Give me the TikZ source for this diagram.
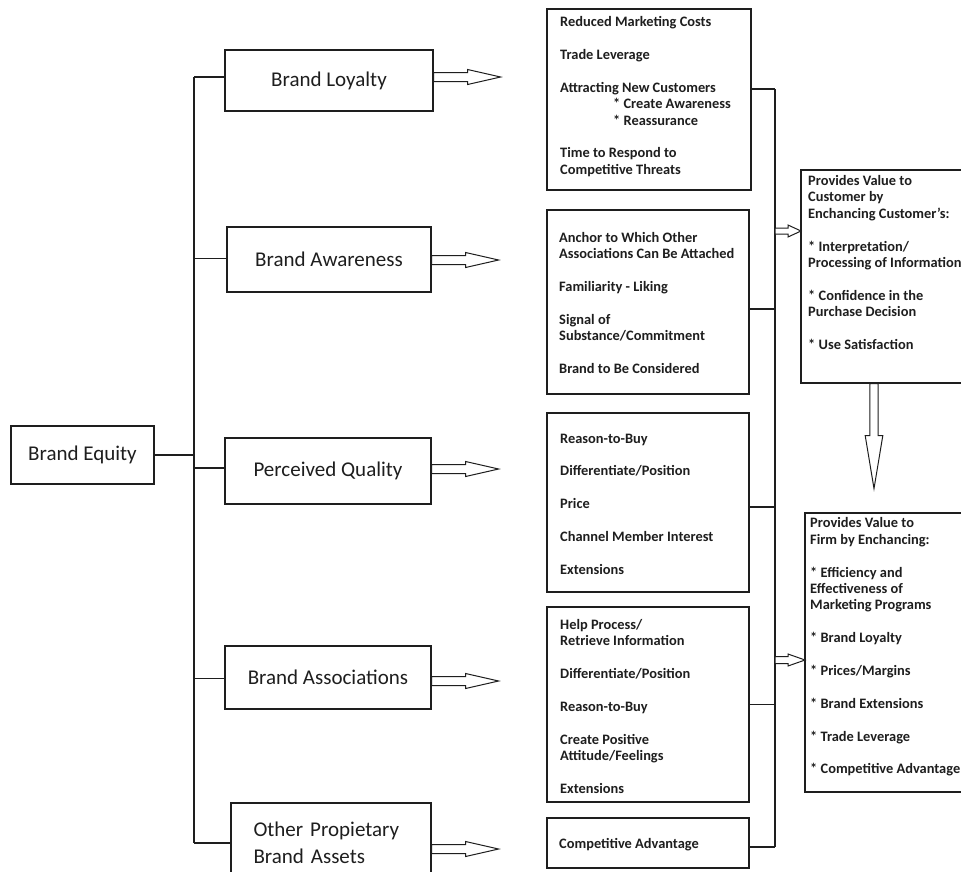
\documentclass[tikz,border=0pt]{standalone}
\usepackage{fontspec}
\setmainfont{Carlito}
\usetikzlibrary{calc}
\definecolor{ink}{RGB}{30,30,30}
\newcommand{\harrowR}[5]{\draw[hol] (#1) ++(0,-#4) -- ++(#2,0) -- ++(0,{-(#5-#4)}) -- ++(#3,#5) -- ++(-#3,#5) -- ++(0,{-(#5-#4)}) -- ++(-#2,0) -- cycle;}
\newcommand{\harrowD}[5]{\draw[hol] (#1) ++(-#4,0) -- ++(0,#2) -- ++({-(#5-#4)},0) -- ++(#5,#3) -- ++(#5,-#3) -- ++({-(#5-#4)},0) -- ++(0,-#2) -- cycle;}
\tikzset{
  ln/.style={draw=ink, line width=1.2pt},
  lbox/.style={draw=ink, line width=1.2pt, rectangle, inner sep=0pt, text=ink,
    font=\fontsize{21}{27}\selectfont},
  rbox/.style={draw=ink, line width=1.2pt, rectangle, inner sep=0pt},
  rtext/.style={font=\bfseries\fontsize{14.4}{16.4}\selectfont, text=ink, align=left,
    anchor=west, inner sep=0pt},
  hol/.style={draw=ink, line width=1pt, fill=white, line join=miter},
}
\begin{document}
\begin{tikzpicture}[x=1pt,y=-1pt]
\useasboundingbox (0,0) rectangle (961,871);
\fill[white] (0,0) rectangle (961,871);
\clip (0,0) rectangle (961,871);

% trunks
\coordinate (lt) at (194,0);
\coordinate (rt) at (775,0);

% left boxes
\node[lbox, minimum width=143pt, minimum height=58pt] (eq) at (82.5,455) {Brand Equity};
\node[lbox, minimum width=208pt, minimum height=61pt] (lb) at (329,80.5) {Brand Loyalty};
\node[lbox, minimum width=204pt, minimum height=65pt] (ab) at (329,259.5) {Brand Awareness};
\node[lbox, minimum width=206pt, minimum height=66pt] (pb) at (328,471) {Perceived Quality};
\node[lbox, minimum width=206pt, minimum height=63pt] (sb) at (328,677.5) {Brand Associations};
\node[lbox, minimum width=200pt, minimum height=80pt, text width=155pt, align=left] (ob) at (331,843) {\mbox{Other Propietary}\\\mbox{Brand Assets}};

% connection points on left boxes
\coordinate (lbw) at ([yshift=3.5pt]lb.west);
\coordinate (abw) at ([yshift=1pt]ab.west);
\coordinate (pbw) at ([yshift=3pt]pb.west);
\coordinate (sbw) at ([yshift=-1pt]sb.west);
\coordinate (obw) at (ob.west);

\draw[ln] (eq.east) -- (eq.east -| lt);
\draw[ln] (lt |- lbw) -- (lt |- obw);
\foreach \c in {lbw,abw,pbw,sbw,obw} \draw[ln] (\c) -- (\c -| lt);

% right boxes
\node[rbox, minimum width=204pt, minimum height=181pt] (r1) at (649,99.5) {};
\node[rbox, minimum width=202pt, minimum height=184pt] (r2) at (648,302) {};
\node[rbox, minimum width=202pt, minimum height=179pt] (r3) at (648,502.5) {};
\node[rbox, minimum width=202pt, minimum height=195pt] (r4) at (648,704.5) {};
\node[rbox, minimum width=202pt, minimum height=50pt] (r5) at (648,843) {};
\node[rbox, minimum width=174pt, minimum height=213pt] (cb) at (888,276.5) {};
\node[rbox, minimum width=170pt, minimum height=279pt] (fb) at (890,652.5) {};

% texts
\node[rtext] (t1) at (560,96.5) {Reduced Marketing Costs\\[16.4pt]
Trade Leverage\\[16.4pt]
Attracting New Customers\\
\hspace*{53pt}* Create Awareness\\
\hspace*{53pt}* Reassurance\\[16.4pt]
Time to Respond to\\
Competitive Threats};
\node[rtext] (t2) at (559,303) {Anchor to Which Other\\
Associations Can Be Attached\\[16.4pt]
Familiarity - Liking\\[16.4pt]
Signal of\\
Substance/Commitment\\[16.4pt]
Brand to Be Considered};
\node[rtext] (t3) at (560,504) {Reason-to-Buy\\[16.4pt]
Differentiate/Position\\[16.4pt]
Price\\[16.4pt]
Channel Member Interest\\[16.4pt]
Extensions};
\node[rtext] (t4) at (560,706.5) {Help Process/\\
Retrieve Information\\[16.4pt]
Differentiate/Position\\[16.4pt]
Reason-to-Buy\\[16.4pt]
Create Positive\\
Attitude/Feelings\\[16.4pt]
Extensions};
\node[rtext] (t5) at (559,844.5) {Competitive Advantage};
\node[rtext] (t6) at (808,262.5) {Provides Value to\\
Customer by\\
Enchancing Customer's:\\[16.4pt]
* Interpretation/\\
Processing of Information\\[16.4pt]
* Confidence in the\\
Purchase Decision\\[16.4pt]
* Use Satisfaction};
\node[rtext] (t7) at (810,647) {Provides Value to\\
Firm by Enchancing:\\[16.4pt]
* Efficiency and\\
Effectiveness of\\
Marketing Programs\\[16.4pt]
* Brand Loyalty\\[16.4pt]
* Prices/Margins\\[16.4pt]
* Brand Extensions\\[16.4pt]
* Trade Leverage\\[16.4pt]
* Competitive Advantage};

% right connectors
\coordinate (c1) at ([yshift=10.5pt]r1.east);
\coordinate (c2) at ([yshift=-7pt]r2.east);
\coordinate (c3) at ([yshift=-4.5pt]r3.east);
\coordinate (c4) at (r4.east);
\coordinate (c5) at ([yshift=-4pt]r5.east);
\draw[ln] (rt |- c1) -- (rt |- c5);
\foreach \c in {c1,c2,c3,c4,c5} \draw[ln] (\c) -- (\c -| rt);

% hollow arrows left -> right boxes
\harrowR{[yshift=3.5pt]lb.east}{34}{33}{4.5}{7.5}
\harrowR{[yshift=-0.5pt]ab.east}{34}{33}{4.5}{7.5}
\harrowR{[yshift=2pt]pb.east}{34}{33}{4.5}{7.5}
\harrowR{[yshift=-3.5pt]sb.east}{34}{33}{4.5}{7.5}
\harrowR{[yshift=-6pt]ob.east}{34}{33}{4.5}{7.5}

% arrows to value boxes
\coordinate (ca) at ([yshift=45.5pt]cb.west -| rt);
\coordinate (fa) at ([yshift=-7.5pt]fb.west -| rt);
\harrowR{ca}{13}{13}{3}{6}
\harrowR{fa}{13}{17}{3.5}{6}

% down arrow
\harrowD{[xshift=-14pt]cb.south}{52}{53}{4.2}{8.8}
\end{tikzpicture}
\end{document}
